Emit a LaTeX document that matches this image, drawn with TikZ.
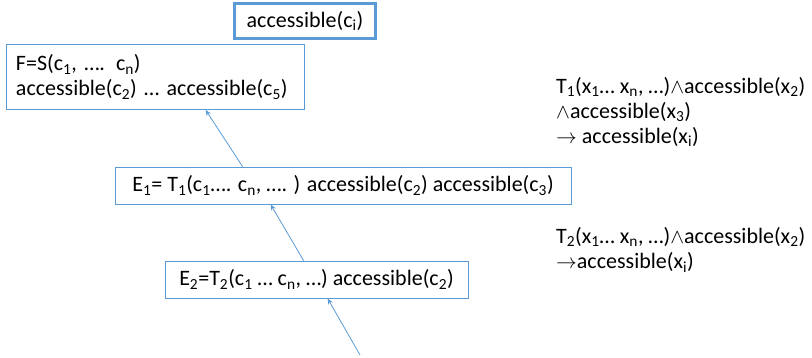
\documentclass[tikz,border=0pt]{standalone}
\usepackage{fontspec}
\setmainfont{Carlito}
\usepackage{tikz}
\usetikzlibrary{arrows.meta}
\definecolor{boxblue}{RGB}{91,155,213}
\newcommand{\sbs}[1]{\textsubscript{#1}}
\newcommand{\acc}[1]{accessible(#1)}

\begin{document}
\begin{tikzpicture}[x=1pt,y=-1pt,font=\fontsize{22}{25}\selectfont,
  plainbox/.style={draw=boxblue,line width=0.8pt,inner sep=0pt},
  goalbox/.style={draw=boxblue,line width=3pt,inner sep=0pt},
  ruletext/.style={anchor=west,align=left,inner sep=0pt},
  uparrow/.style={draw=boxblue,line width=0.8pt,-{Stealth[length=6pt,width=5pt]}}]
\useasboundingbox (0,0) rectangle (812,358);
%goal
\node[goalbox,minimum width=141,minimum height=35] (goal) at (305,21) {\acc{c\sbs{i}}};
%top box
\node[plainbox,minimum width=298,minimum height=65,align=left,text width=278] (F) at (155,77)
  {F=S(c\sbs{1}, …. c\sbs{n})\\\acc{c\sbs{2}} … \acc{c\sbs{5}}};
%middle box
\node[plainbox,minimum width=456,minimum height=37] (E1) at (343,185.5)
  {E\sbs{1}= T\sbs{1}(c\sbs{1}…. c\sbs{n}, …. ) \acc{c\sbs{2}} \acc{c\sbs{3}}};
%bottom box
\node[plainbox,minimum width=303,minimum height=37] (E2) at (316.5,279.5)
  {E\sbs{2}=T\sbs{2}(c\sbs{1} … c\sbs{n}, …) \acc{c\sbs{2}}};
%rules
\node[ruletext] (R1) at (556,112)
  {T\sbs{1}(x\sbs{1}… x\sbs{n}, …)$\wedge$\acc{x\sbs{2}}\\$\wedge$\acc{x\sbs{3}}\\ $\rightarrow$ \acc{x\sbs{i}}};
\node[ruletext] (R2) at (556,250)
  {T\sbs{2}(x\sbs{1}… x\sbs{n}, …)$\wedge$\acc{x\sbs{2}}\\ $\rightarrow$\acc{x\sbs{i}}};
%arrows
\coordinate (start) at (360,355);
\draw[uparrow] (start) -- ([xshift=163pt]E2.south west);
\draw[uparrow] ([xshift=139pt]E2.north west) -- ([xshift=156pt]E1.south west);
\draw[uparrow] ([xshift=128pt]E1.north west) -- ([xshift=200pt]F.south west);
\end{tikzpicture}
\end{document}
